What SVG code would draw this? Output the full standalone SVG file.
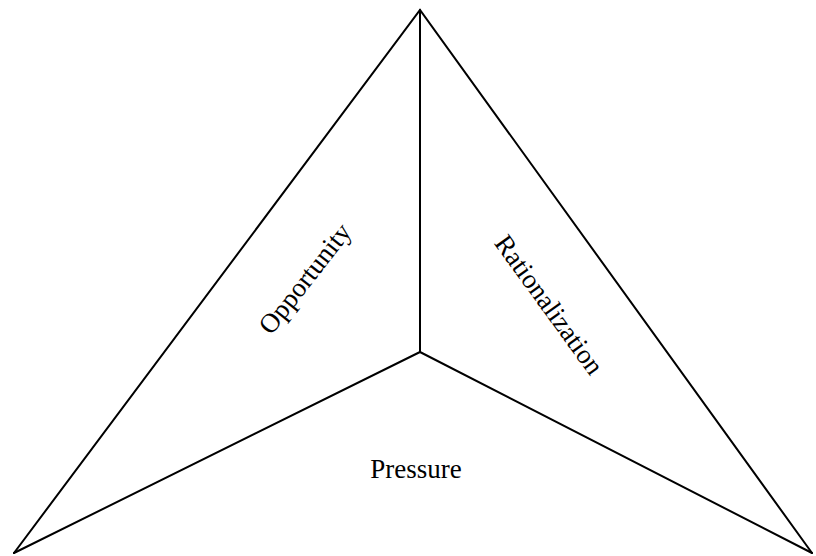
<svg xmlns="http://www.w3.org/2000/svg" width="816" height="556" viewBox="0 0 816 556">
<style>
.ln{stroke:#000;stroke-width:2;fill:none;stroke-linecap:round;stroke-linejoin:miter}
.lb{font-family:"Liberation Serif","Times New Roman",serif;font-size:27px;fill:#000;text-anchor:middle}
</style>
<rect width="816" height="556" fill="#fff"/>
<g id="connectors">
<polyline class="ln" points="14,553 420,10 812,553"/>
<line class="ln" x1="420" y1="10" x2="420" y2="352"/>
<line class="ln" x1="420" y1="352" x2="14" y2="553"/>
<line class="ln" x1="420" y1="352" x2="812" y2="553"/>
</g>
<g id="opportunity"><text class="lb" transform="translate(312,284) rotate(-52)">Opportunity</text></g>
<g id="rationalization"><text class="lb" transform="translate(542,310) rotate(54)">Rationalization</text></g>
<g id="pressure"><text class="lb" x="416" y="478">Pressure</text></g>
</svg>
